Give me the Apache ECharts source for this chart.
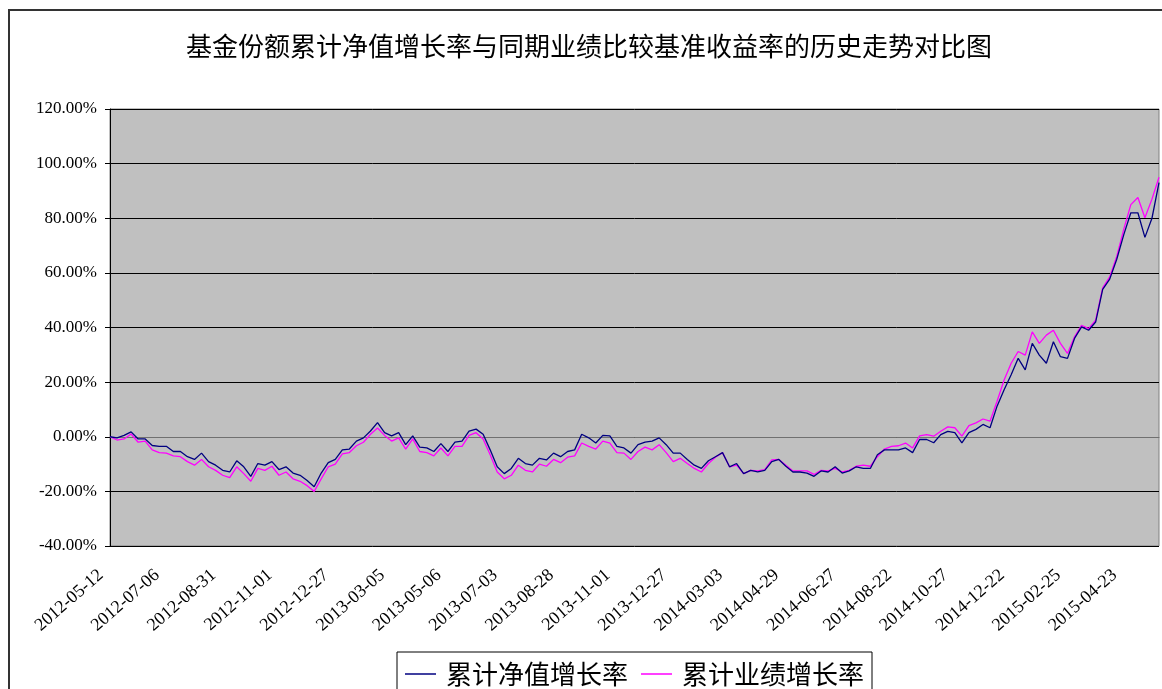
<!DOCTYPE html>
<html>
<head>
<meta charset="utf-8">
<script src="https://cdn.jsdelivr.net/npm/echarts@6/dist/echarts.min.js"></script>
<style>
    html, body { margin: 0; padding: 0; background: #fff; }
    #chart-id { width: 1162px; height: 689px; }
</style>
</head>
<body>
<div id="chart-id"></div>
<script>
// 横轴刻度标签, 每8个数据点一个
var tickLabels = ['2012-05-12', '2012-07-06', '2012-08-31', '2012-11-01', '2012-12-27',
    '2013-03-05', '2013-05-06', '2013-07-03', '2013-08-28', '2013-11-01', '2013-12-27',
    '2014-03-03', '2014-04-29', '2014-06-27', '2014-08-22', '2014-10-27', '2014-12-22',
    '2015-02-25', '2015-04-23'];
var labelStep = 8;

// 累计净值增长率 (%)
var navValues = [
    0, -0.4, 0.5, 1.8, -0.8, -0.8, -3.2, -3.5, -3.5, -5.4,
    -5.4, -7.3, -8.3, -6, -9.1, -10.4, -12.3, -12.9, -8.8, -11,
    -14.5, -9.8, -10.4, -9.1, -12, -11, -13.3, -14.1, -16, -18.3,
    -13.3, -9.5, -8.3, -4.8, -4.5, -1.6, -0.4, 2.1, 5.2, 1.5,
    0.3, 1.5, -2.9, 0.3, -3.8, -4.1, -5.4, -2.5, -5.4, -2,
    -1.6, 2.1, 2.8, 0.9, -4.8, -11, -13.5, -11.6, -7.9, -9.8,
    -10.4, -7.9, -8.5, -6, -7.3, -5.4, -4.8, 0.9, -0.4, -2.3,
    0.5, 0.3, -3.5, -4.1, -6, -2.9, -2, -1.6, -0.4, -2.9,
    -6, -6, -8.3, -10.4, -11.6, -8.8, -7.3, -5.8, -11, -9.8,
    -13.5, -12.3, -12.9, -12.3, -9.1, -8.3, -10.8, -12.9, -12.9, -13.3,
    -14.5, -12.5, -12.9, -11, -13.3, -12.5, -11, -11.6, -11.6, -6.6,
    -4.8, -4.8, -4.8, -4.1, -5.8, -1, -1, -2.2, 0.8, 2,
    1.5, -2.2, 1.5, 2.7, 4.5, 3.3, 11.2, 17.2, 22.7, 28.7,
    24.5, 34.2, 29.9, 26.9, 34.8, 29.3, 28.7, 36, 40.2, 39,
    42, 54, 57.7, 65, 74, 82, 82, 73, 80, 93
];

// 累计业绩增长率 (%)
var benchValues = [
    0, -1.2, -0.8, 1, -2, -1.6, -4.8, -5.8, -6, -7,
    -7.3, -9.1, -10.4, -8.3, -11, -12.3, -14.1, -15, -11, -13.5,
    -16.3, -11.6, -12.3, -10.8, -14.1, -12.9, -15.4, -16.3, -17.9, -20,
    -15.4, -11, -10, -6.3, -5.8, -3.3, -2, 0.9, 3.2, 0.5,
    -1.6, -0.4, -4.5, -0.8, -5.4, -5.8, -7, -4.1, -7, -3.5,
    -3.5, 0.5, 1.5, -0.8, -6.6, -12.9, -15.4, -14.1, -10.4, -12.3,
    -12.9, -10, -10.8, -8.3, -9.5, -7.5, -7, -2.3, -3.5, -4.5,
    -1.6, -2.3, -5.8, -6, -8.3, -5.4, -3.8, -4.8, -2.9, -5.8,
    -9.1, -7.9, -9.8, -11.6, -12.9, -9.8, -7.5, -5.8, -11, -10.4,
    -13.5, -12.3, -12.5, -12, -8.5, -8.3, -10.4, -12.5, -12.5, -12.5,
    -13.8, -12.3, -12.5, -11.6, -12.9, -12.3, -10.8, -10.4, -10.8, -7.3,
    -4.5, -3.5, -3.3, -2.3, -4.1, 0.3, 0.8, 0.2, 2, 3.6,
    3.3, 0.2, 4.1, 5.1, 6.5, 5.7, 13, 20.8, 26.9, 31.2,
    29.9, 38.4, 34.2, 37.2, 39, 34.2, 30.5, 36.6, 40.8, 39.6,
    42.7, 54.5, 58.5, 66, 76, 85, 87.6, 80.2, 87, 95
];

var seriesNames = ['累计净值增长率', '累计业绩增长率'];

function plotChart(divId) {
    var dom = document.getElementById(divId);
    var myChart = echarts.init(dom, null, { renderer: 'canvas' });
    var option;

    var categories = [];
    for (var i = 0; i < navValues.length; i++) categories.push(String(i));

    option = {
        backgroundColor: '#fff',
        animation: false,
        title: {
            text: '基金份额累计净值增长率与同期业绩比较基准收益率的历史走势对比图',
            left: 186,
            top: 33,
            padding: 0,
            textStyle: {
                fontFamily: 'Noto Sans CJK SC',
                fontSize: 26,
                fontWeight: 'normal',
                color: '#000'
            }
        },
        graphic: [{
            type: 'rect',
            shape: { x: 9, y: 10, width: 1200, height: 700 },
            style: { fill: 'none', stroke: '#333', lineWidth: 2 },
            silent: true
        }],
        legend: {
            data: seriesNames,
            left: 397,
            top: 652,
            padding: [9, 8, 10, 8],
            icon: 'rect',
            itemGap: 13,
            itemWidth: 31,
            itemHeight: 1.5,
            borderColor: '#000',
            borderWidth: 1,
            backgroundColor: '#fff',
            textStyle: {
                fontFamily: 'Noto Sans CJK SC',
                fontSize: 26,
                color: '#000',
                padding: [0, 0, 0, 5]
            }
        },
        grid: {
            show: true,
            left: 110,
            right: 3,
            top: 109,
            bottom: 143,
            backgroundColor: '#c0c0c0',
            borderColor: '#808080',
            borderWidth: 1
        },
        xAxis: {
            type: 'category',
            data: categories,
            boundaryGap: false,
            axisLine: { lineStyle: { color: '#707070', width: 1 } },
            axisTick: { show: false },
            splitLine: { show: false },
            axisLabel: {
                interval: labelStep - 1,
                rotate: 41,
                margin: 19,
                padding: [0, 12, 0, 0],
                fontFamily: 'Liberation Serif',
                fontSize: 18,
                color: '#000',
                formatter: function (val, idx) {
                    return tickLabels[idx / labelStep] || '';
                }
            }
        },
        yAxis: {
            type: 'value',
            min: -40,
            max: 120,
            interval: 20,
            axisLine: { show: true, lineStyle: { color: '#000', width: 1 } },
            axisTick: { show: true, length: 5, lineStyle: { color: '#000' } },
            splitLine: { show: true, lineStyle: { color: '#000', width: 1 } },
            axisLabel: {
                margin: 13,
                fontFamily: 'Liberation Serif',
                fontSize: 17,
                color: '#000',
                formatter: function (v) { return v.toFixed(2) + '%'; }
            }
        },
        series: [
            {
                name: seriesNames[0],
                type: 'line',
                symbol: 'none',
                data: navValues,
                lineStyle: { color: '#000080', width: 1.3 },
                itemStyle: { color: '#000080' },
                z: 3
            },
            {
                name: seriesNames[1],
                type: 'line',
                symbol: 'none',
                data: benchValues,
                lineStyle: { color: '#ff00ff', width: 1.3 },
                itemStyle: { color: '#ff00ff' },
                z: 2
            }
        ]
    };

    if (option && typeof option === 'object') {
        myChart.setOption(option);
    }
}

plotChart('chart-id');
</script>
</body>
</html>
